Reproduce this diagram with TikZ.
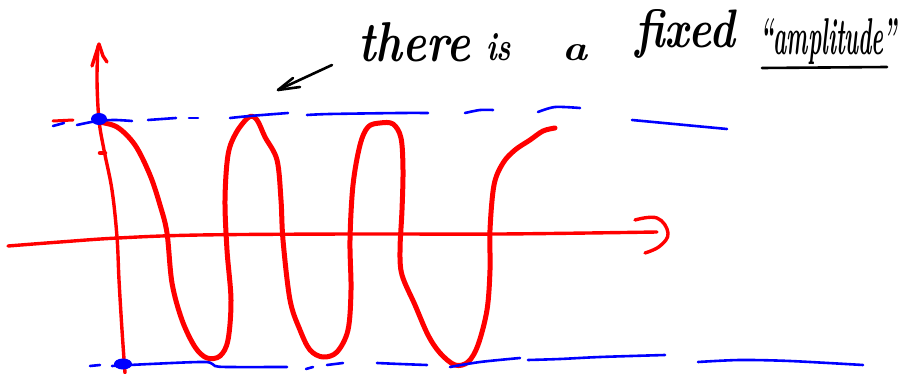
\documentclass[tikz,border=0pt]{standalone}
\usetikzlibrary{calc}
\tikzset{
  wave/.style={draw=red, line width=5pt, line cap=round, line join=round},
  axis/.style={draw=red, line width=3.4pt, line cap=round, line join=round},
  bdash/.style={draw=blue, line width=2.6pt, line cap=round},
  ink/.style={draw=black, line width=2.6pt, line cap=round, line join=round},
  hand/.style={font=\fontsize{40}{42}\selectfont\bfseries\itshape, inner sep=0pt, anchor=base west},
}
\begin{document}
\begin{tikzpicture}[x=1pt,y=-1pt]
\useasboundingbox (0,0) rectangle (910,374);
% vertical axis
\draw[axis] plot[smooth, tension=0.6] coordinates {(125,373) (122,330) (119,280) (117,237) (112,190) (104,150) (99,120) (97,80) (98,46)};
\draw[axis] (92,66) -- (99,44) -- (103,56) -- (107,62);
\draw[axis, line width=4.5pt] (100,153) -- (105,153);
% horizontal axis
\draw[axis] plot[smooth, tension=0.6] coordinates {(8,246) (60,242) (118,238) (200,235) (350,234) (500,234) (657,232)};
\draw[axis] plot[smooth, tension=0.7] coordinates {(635,220) (657,218) (668,233) (660,246) (645,253)};
% red wave
\draw[wave] plot[smooth, tension=0.55] coordinates {(98,122) (117,127) (135,145) (150,175) (160,205) (167,233) (172,283) (182,320) (195,347) (207,358) (220,356) (228,340) (231,300) (227,250) (225,200) (228,155) (236,133) (249,117) (257,120) (265,137) (277,160) (281,200) (283,240) (290,300) (300,330) (310,350) (323,357) (337,352) (348,330) (351,290) (350,240) (353,185) (360,145) (368,127) (380,123) (393,124) (401,138) (403,170) (402,210) (400,250) (402,275) (415,305) (428,335) (440,353) (455,365) (468,362) (478,345) (487,310) (490,270) (490,230) (494,185) (503,163) (515,150) (530,140) (543,131) (555,128)};
% top amplitude line
\draw[draw=red, line width=3pt, line cap=round] (53,121) -- (73,120);
\draw[bdash] (53,126) -- (64,123);
\draw[bdash] plot[smooth] coordinates {(77,125) (97,121) (115,120) (132,121)};
\fill[blue] (99,119) ellipse (8pt and 6pt);
\draw[bdash] (148,120) -- (176,118);
\draw[bdash] (189,118) -- (198,118);
\draw[bdash] plot[smooth] coordinates {(230,118) (250,116) (288,113)};
\draw[bdash] plot[smooth] coordinates {(307,115) (330,114) (400,113) (428,113)};
\draw[bdash] plot[smooth] coordinates {(465,113) (480,110) (493,110)};
\draw[bdash] plot[smooth] coordinates {(538,112) (555,107) (580,108)};
\draw[bdash] (632,120) -- (727,129);
% bottom amplitude line
\draw[bdash] (90,366) -- (100,365);
\draw[bdash] plot[smooth] coordinates {(112,366) (150,364) (205,362) (215,366) (228,367) (287,367)};
\fill[blue] (123,364) ellipse (9pt and 5.5pt);
\draw[bdash] (306,369) -- (313,367);
\draw[bdash] (327,365) -- (343,363);
\draw[bdash] plot[smooth] coordinates {(377,363) (400,364) (427,365)};
\draw[bdash] plot[smooth] coordinates {(450,367) (480,362) (520,358)};
\draw[bdash] plot[smooth] coordinates {(528,360) (560,359) (600,357) (665,355)};
\draw[bdash] plot[smooth] coordinates {(698,362) (740,360) (790,361) (863,365)};
% annotation
\coordinate (tail) at (332,65);
\coordinate (tip) at (278,90);
\draw[ink] (tail) -- (tip);
\draw[ink] (293,78) -- (tip) -- (300,87);
\node[hand] (t1) at (358,62) {\resizebox{112pt}{39pt}{there}};
\node[hand] (t2) at (486,61) {\resizebox{25pt}{27pt}{is}};
\node[hand] (t3) at (562,61) {\resizebox{25pt}{16pt}{a}};
\node[hand] (t4) at (635,48) {\resizebox{100pt}{38pt}{fixed}};
\node[hand] (t5) at (760,55) {\resizebox{137pt}{36pt}{``amplitude''}};
\draw[ink] (762,68) -- (887,67);
\end{tikzpicture}
\end{document}
